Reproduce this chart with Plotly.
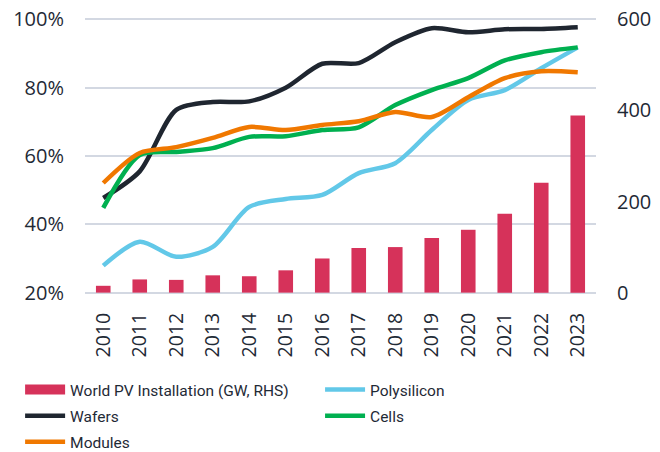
import plotly.graph_objects as go

years = [str(y) for y in range(2010, 2024)]
pv_install = [15, 29, 28, 38, 36, 49, 75, 98, 100, 120, 138, 173, 241, 389]
polysilicon = [27.9, 34.9, 30.5, 33.4, 45.1, 47.4, 48.6, 55.0, 57.9, 67.6, 76.4, 79.3, 85.7, 91.8]
wafers = [47.7, 55.5, 73.5, 75.8, 76.0, 80.0, 87.0, 87.2, 93.3, 97.4, 96.2, 97.1, 97.2, 97.7]
cells = [44.8, 60.3, 61.2, 62.3, 65.6, 65.8, 67.6, 68.4, 74.9, 79.3, 82.8, 88.0, 90.4, 91.8]
modules = [52.1, 60.9, 62.6, 65.3, 68.5, 67.6, 69.1, 70.2, 72.9, 71.4, 77.2, 82.8, 84.8, 84.5]
left_ticks = [20, 40, 60, 80, 100]
left_labels = ["20%", "40%", "60%", "80%", "100%"]
right_ticks = [0, 200, 400, 600]

TICK_FONT = "Open Sans"
LEG_FONT = "Roboto"
TXT = "#1f2a36"
BAR_COL = "#d6325a"
GRID = "#d3d8e2"

fig = go.Figure()
fig.add_trace(go.Bar(x=years, y=pv_install, name="World PV Installation (GW, RHS)",
                     marker=dict(color=BAR_COL, line=dict(width=0)), width=0.4,
                     yaxis="y2", showlegend=False, legendgroup="pv"))
# legend entry for the bars (wide rectangle swatch)
fig.add_trace(go.Scatter(x=[None], y=[None], name="World PV Installation (GW, RHS)",
                         mode="lines", line=dict(color=BAR_COL, width=13),
                         yaxis="y2", legend="legend", legendgroup="pv"))
for name, vals, col, lg in [("Polysilicon", polysilicon, "#62c8e8", "legend2"),
                            ("Wafers", wafers, "#1f2630", "legend"),
                            ("Cells", cells, "#00b050", "legend2"),
                            ("Modules", modules, "#f07800", "legend")]:
    fig.add_trace(go.Scatter(x=years, y=vals, name=name, mode="lines",
                             line=dict(color=col, width=4.5, shape="spline", smoothing=0.8),
                             yaxis="y", legend=lg, legendgroup=name))

# horizontal gridlines at the left-axis tick values
for v in left_ticks:
    fig.add_shape(type="line", xref="paper", yref="y", x0=0, x1=1, y0=v, y1=v,
                  line=dict(color=GRID, width=1.5), layer="below")

leg_common = dict(orientation="v", xref="paper", yref="paper", xanchor="left", yanchor="top",
                  font=dict(family=LEG_FONT, size=15.5, color=TXT), itemwidth=40,
                  tracegroupgap=3, traceorder="grouped", bgcolor="rgba(0,0,0,0)")

fig.update_layout(
    width=660, height=452,
    margin=dict(l=85, r=64, t=18, b=158, autoexpand=False),
    plot_bgcolor="white", paper_bgcolor="white",
    font=dict(family=TICK_FONT, color=TXT, size=18),
    xaxis=dict(type="category", range=[-0.5, 13.5], tickangle=-90, showgrid=False,
               ticks="outside", ticklen=10, tickcolor="rgba(0,0,0,0)",
               tickfont=dict(family=TICK_FONT, size=19.5, color=TXT),
               showline=False, automargin=False),
    yaxis=dict(side="left", range=[19.6, 100.4], tickvals=left_ticks,
               ticktext=left_labels, tickmode="array", showgrid=True, gridcolor=GRID,
               gridwidth=1.5, zeroline=False,
               tickfont=dict(family=TICK_FONT, size=20, color=TXT),
               ticklabelstandoff=20, automargin=False),
    yaxis2=dict(side="right", overlaying="y", range=[-3, 603], tickvals=right_ticks,
                showgrid=False, zeroline=False,
                tickfont=dict(family=TICK_FONT, size=20, color=TXT),
                ticklabelstandoff=20, automargin=False),
    legend=dict(x=-0.127, y=-0.286, **leg_common),
    legend2=dict(x=0.46, y=-0.286, **leg_common),
    showlegend=True,
)

fig.write_html("out.html", config={"displayModeBar": False},
               post_script="document.body.style.margin='0';")
